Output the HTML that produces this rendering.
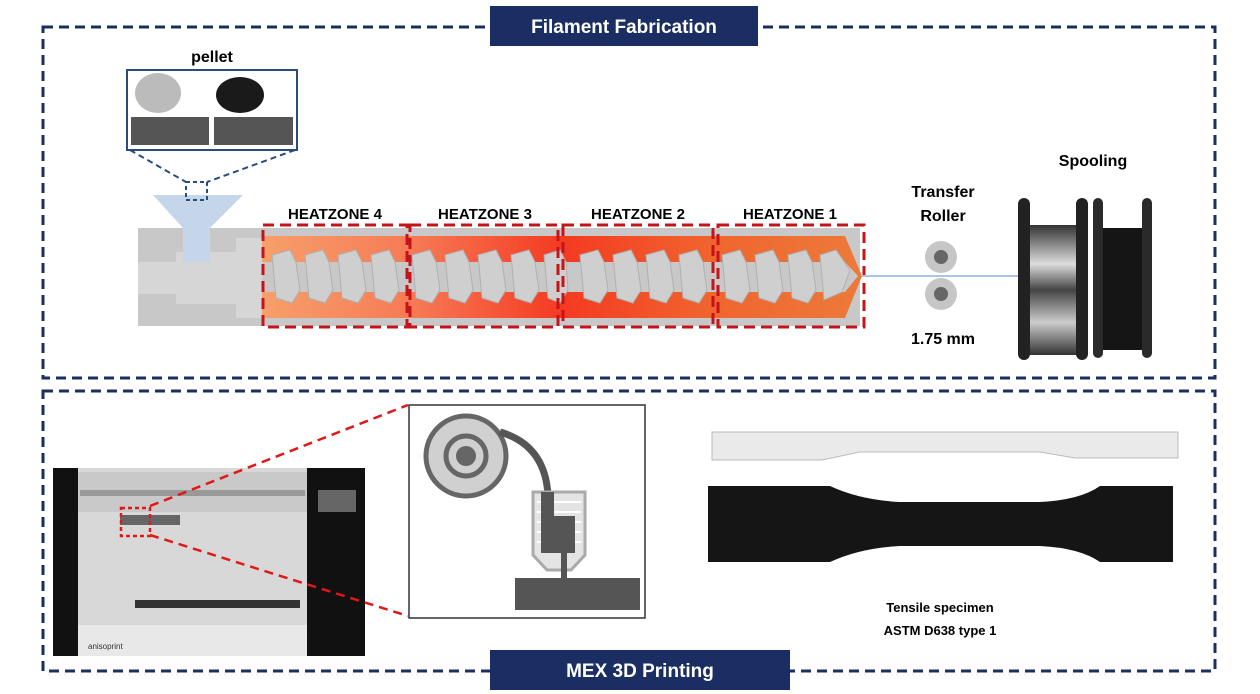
<!DOCTYPE html>
<html><head><meta charset="utf-8"><style>
body{margin:0;background:#fff;}
svg{display:block;font-family:"Liberation Sans",sans-serif;}
</style></head><body>
<svg width="1260" height="694" viewBox="0 0 1260 694">
<defs>
<linearGradient id="heat" x1="0" x2="1" y1="0" y2="0">
<stop offset="0" stop-color="#f6a06a"/><stop offset="0.25" stop-color="#f77a55"/>
<stop offset="0.5" stop-color="#f43a22"/><stop offset="0.75" stop-color="#f0652e"/>
<stop offset="1" stop-color="#ec7a3a"/></linearGradient>
<linearGradient id="sp1" x1="0" x2="0" y1="0" y2="1">
<stop offset="0" stop-color="#333"/><stop offset="0.3" stop-color="#ddd"/><stop offset="0.5" stop-color="#444"/><stop offset="0.75" stop-color="#ccc"/><stop offset="1" stop-color="#333"/></linearGradient>
</defs>
<!-- frames -->
<rect x="43" y="27" width="1172" height="351" fill="none" stroke="#1b2e63" stroke-width="3" stroke-dasharray="10,6"/>
<rect x="43" y="391" width="1172" height="280" fill="none" stroke="#1b2e63" stroke-width="3" stroke-dasharray="10,6"/>
<rect x="490" y="6" width="268" height="40" fill="#1b2e63"/>
<text x="624" y="33" font-size="19" font-weight="bold" fill="#fff" text-anchor="middle">Filament Fabrication</text>
<rect x="490" y="650" width="300" height="40" fill="#1b2e63"/>
<text x="640" y="677" font-size="19" font-weight="bold" fill="#fff" text-anchor="middle">MEX 3D Printing</text>

<!-- pellet -->
<text x="212" y="62" font-size="16" font-weight="bold" text-anchor="middle">pellet</text>
<rect x="127" y="70" width="170" height="80" fill="#fff" stroke="#2a4d7a" stroke-width="2"/>
<ellipse cx="158" cy="93" rx="23" ry="20" fill="#bbb"/>
<ellipse cx="240" cy="95" rx="24" ry="18" fill="#1a1a1a"/>
<rect x="131" y="117" width="78" height="28" fill="#555"/>
<rect x="214" y="117" width="79" height="28" fill="#555"/>
<line x1="130" y1="150" x2="186" y2="182" stroke="#2a4d7a" stroke-width="2" stroke-dasharray="6,4"/>
<line x1="295" y1="150" x2="207" y2="182" stroke="#2a4d7a" stroke-width="2" stroke-dasharray="6,4"/>

<!-- barrel -->
<rect x="138" y="228" width="722" height="98" fill="#c8c8c8"/>
<rect x="138" y="262" width="40" height="32" fill="#d6d6d6"/>
<rect x="176" y="252" width="60" height="52" fill="#d6d6d6"/>
<rect x="236" y="238" width="26" height="80" fill="#d6d6d6"/>
<polygon points="262,236 845,236 862,276 845,318 262,318" fill="url(#heat)"/>
<polygon points="262,262 845,262 858,276 845,292 262,292" fill="#c8c8c8"/>
<g fill="#cfcfcf" stroke="#b0b0b0" stroke-width="1">
<polygon points="272,255 290,250 296,262 300,290 292,303 276,298"/>
<polygon points="305,255 323,250 329,262 333,290 325,303 309,298"/>
<polygon points="338,255 356,250 362,262 366,290 358,303 342,298"/>
<polygon points="371,255 389,250 395,262 399,290 391,303 375,298"/>
<polygon points="412,255 430,250 436,262 440,290 432,303 416,298"/>
<polygon points="445,255 463,250 469,262 473,290 465,303 449,298"/>
<polygon points="478,255 496,250 502,262 506,290 498,303 482,298"/>
<polygon points="511,255 529,250 535,262 539,290 531,303 515,298"/>
<polygon points="544,255 560,250 566,262 568,290 560,303 548,298"/>
<polygon points="580,255 598,250 604,262 608,290 600,303 584,298"/>
<polygon points="613,255 631,250 637,262 641,290 633,303 617,298"/>
<polygon points="646,255 664,250 670,262 674,290 666,303 650,298"/>
<polygon points="679,255 697,250 703,262 707,290 699,303 683,298"/>
<polygon points="722,255 740,250 746,262 750,290 742,303 726,298"/>
<polygon points="755,255 773,250 779,262 783,290 775,303 759,298"/>
<polygon points="788,255 806,250 812,262 816,290 808,303 792,298"/>
<polygon points="820,255 836,250 850,270 842,292 824,300"/>
</g>
<!-- hopper -->
<polygon points="153,195 243,195 210,228 210,262 183,262 183,228" fill="#c5d5ea"/>
<rect x="186" y="182" width="21" height="18" fill="none" stroke="#2a4d7a" stroke-width="2" stroke-dasharray="4,3"/>

<!-- heatzones -->
<g fill="none" stroke="#c4141a" stroke-width="3" stroke-dasharray="11,6">
<rect x="263" y="225" width="144" height="102"/>
<rect x="410" y="225" width="148" height="102"/>
<rect x="563" y="225" width="150" height="102"/>
<rect x="718" y="225" width="146" height="102"/>
</g>
<g font-size="15" font-weight="bold" text-anchor="middle">
<text x="335" y="219">HEATZONE 4</text>
<text x="485" y="219">HEATZONE 3</text>
<text x="638" y="219">HEATZONE 2</text>
<text x="790" y="219">HEATZONE 1</text>
</g>

<!-- roller -->
<line x1="862" y1="276" x2="1030" y2="276" stroke="#a9c4e6" stroke-width="2"/>
<circle cx="941" cy="257" r="16" fill="#c6c6c6"/><circle cx="941" cy="257" r="7" fill="#666"/>
<circle cx="941" cy="294" r="16" fill="#c6c6c6"/><circle cx="941" cy="294" r="7" fill="#666"/>
<g font-size="16" font-weight="bold" text-anchor="middle">
<text x="943" y="197">Transfer</text><text x="943" y="221">Roller</text>
<text x="943" y="344">1.75 mm</text>
<text x="1093" y="166">Spooling</text></g>
<!-- spools -->
<rect x="1028" y="225" width="52" height="130" fill="url(#sp1)"/>
<rect x="1018" y="198" width="12" height="162" rx="6" fill="#222"/>
<rect x="1076" y="198" width="12" height="162" rx="6" fill="#222"/>
<rect x="1100" y="228" width="46" height="122" fill="#151515"/>
<rect x="1093" y="198" width="10" height="160" rx="5" fill="#2a2a2a"/>
<rect x="1142" y="198" width="10" height="160" rx="5" fill="#2a2a2a"/>

<!-- printer -->
<rect x="53" y="468" width="312" height="188" fill="#d8d8d8"/>
<rect x="78" y="472" width="230" height="40" fill="#c9c9c9"/>
<rect x="80" y="490" width="225" height="6" fill="#999"/>
<rect x="120" y="515" width="60" height="10" fill="#666"/>
<rect x="135" y="600" width="165" height="8" fill="#333"/>
<rect x="78" y="625" width="230" height="31" fill="#e8e8e8"/>
<rect x="53" y="468" width="25" height="188" fill="#111"/>
<rect x="307" y="468" width="58" height="188" fill="#111"/>
<rect x="318" y="490" width="38" height="22" fill="#666"/>
<text x="88" y="649" font-size="8" fill="#333">anisoprint</text>
<rect x="121" y="508" width="29" height="28" fill="none" stroke="#e01818" stroke-width="2.5" stroke-dasharray="4,3"/>
<line x1="150" y1="506" x2="408" y2="405" stroke="#e01818" stroke-width="2.5" stroke-dasharray="9,6"/>
<line x1="150" y1="535" x2="408" y2="616" stroke="#e01818" stroke-width="2.5" stroke-dasharray="9,6"/>

<!-- schematic -->
<rect x="409" y="405" width="236" height="213" fill="#fff" stroke="#333" stroke-width="1.5"/>
<circle cx="466" cy="456" r="40" fill="#d0d0d0" stroke="#666" stroke-width="5"/>
<circle cx="466" cy="456" r="20" fill="none" stroke="#666" stroke-width="5"/>
<circle cx="466" cy="456" r="10" fill="#666"/>
<path d="M500 432 Q545 445 548 495" fill="none" stroke="#555" stroke-width="7"/>
<polygon points="533,492 585,492 585,555 571,570 547,570 533,555" fill="#e4e4e4" stroke="#aaa" stroke-width="3"/>
<g stroke="#fff" stroke-width="2"><line x1="537" y1="502" x2="581" y2="502"/><line x1="537" y1="512" x2="581" y2="512"/><line x1="537" y1="522" x2="581" y2="522"/><line x1="537" y1="532" x2="581" y2="532"/><line x1="537" y1="542" x2="581" y2="542"/></g>
<polygon points="541,492 554,492 554,516 575,516 575,553 541,553" fill="#555"/>
<rect x="561" y="553" width="6" height="25" fill="#555"/>
<rect x="515" y="578" width="125" height="32" fill="#555"/>

<!-- specimens -->
<polygon points="712,432 1178,432 1178,458 1075,458 1040,452 860,452 822,460 712,460" fill="#eaeaea" stroke="#bbb"/>
<polygon points="705,485 1176,485 1176,563 705,563" fill="#fff"/>
<path d="M708 486 L830 486 Q860 500 900 502 L1040 502 Q1080 500 1100 486 L1173 486 L1173 562 L1100 562 Q1080 548 1040 546 L900 546 Q860 548 830 562 L708 562 Z" fill="#151515"/>
<g font-size="13" font-weight="bold" text-anchor="middle">
<text x="940" y="612">Tensile specimen</text>
<text x="940" y="635">ASTM D638 type 1</text></g>
</svg>
</body></html>
